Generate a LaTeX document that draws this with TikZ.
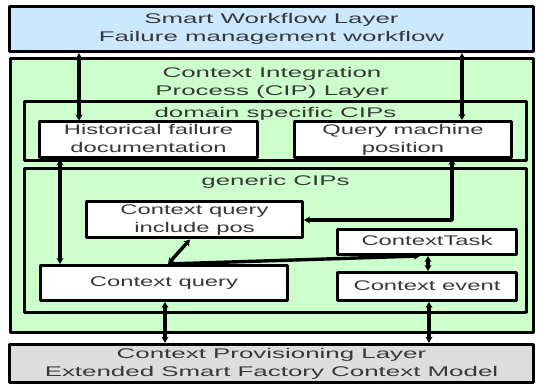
\documentclass[tikz,border=0pt]{standalone}
\usepackage{fontspec}
\setmainfont{Liberation Sans}
\usepackage{graphicx}
\usetikzlibrary{positioning,arrows.meta}
\definecolor{wfblue}{RGB}{204,232,255}
\definecolor{cipgreen}{RGB}{204,255,204}
\definecolor{provgrey}{RGB}{221,221,221}
\newcommand{\widetxt}[2]{\scalebox{#1}[1]{\begin{tabular}{@{}c@{}}#2\end{tabular}}}
\begin{document}
\begin{tikzpicture}[x=1pt,y=1pt,line join=round,>={Stealth[length=6pt,width=7pt]},
	every node/.style={font=\fontsize{14}{18}\selectfont,text=black!78},
	layerbox/.style n args={3}{draw,line width=3.4pt,fill=#1,minimum width=#2,minimum height=#3,inner sep=0pt},
	cipbox/.style 2 args={draw,line width=3pt,fill=cipgreen,minimum width=#1,minimum height=#2,inner sep=0pt},
	cipstep/.style 2 args={draw,line width=3pt,fill=white,minimum width=#1,minimum height=#2,inner sep=0pt},
	link/.style={<->,line width=3.4pt}]
	\useasboundingbox (0,0) rectangle (538,385);
	% layers
	\node[layerbox={wfblue}{524pt}{45pt}] (swl) at (271.5,356) {\widetxt{1.85}{Smart Workflow Layer\\Failure management workflow}};
	\node[layerbox={cipgreen}{523pt}{274pt}] (cip) at (272,189.5) {};
	\node[below=5pt of cip.north] (ciptitle) {\widetxt{1.85}{Context Integration\\Process (CIP) Layer}};
	\node[layerbox={provgrey}{524pt}{38pt}] (cpl) at (271.5,21.5) {\widetxt{1.85}{Context Provisioning Layer\\Extended Smart Factory Context Model}};
	% domain specific CIPs
	\node[cipbox={502pt}{59pt}] (dom) at (275.5,254) {};
	\node[below=1pt of dom.north] (domtitle) {\widetxt{1.85}{domain specific CIPs}};
	\node[cipstep={218pt}{35pt}] (hist) at (148.5,245) {\widetxt{1.7}{Historical failure\\documentation}};
	\node[cipstep={217pt}{34pt}] (qmp) at (403,245.5) {\widetxt{1.7}{Query machine\\position}};
	% generic CIPs
	\node[cipbox={502pt}{144pt}] (gen) at (275.5,144.5) {};
	\node[below=2pt of gen.north] (gentitle) {\widetxt{1.85}{generic CIPs}};
	\node[cipstep={216pt}{35pt}] (cqp) at (194.5,165) {\widetxt{1.7}{Context query\\include pos}};
	\node[cipstep={179pt}{25pt}] (ctask) at (427,143) {\widetxt{1.7}{ContextTask}};
	\node[cipstep={247pt}{35pt}] (cq) at (164,102) {\widetxt{1.7}{Context query}};
	\node[cipstep={179pt}{28pt}] (cev) at (427,98.5) {\widetxt{1.7}{Context event}};
	% connector ends
	\coordinate (histup) at ([xshift=-69.5pt]hist.north);
	\coordinate (histdown) at ([xshift=-88.5pt]hist.south);
	\coordinate (qmpup) at ([xshift=59pt]qmp.north);
	\coordinate (qmpdown) at ([xshift=49pt]qmp.south);
	\coordinate (cqtop) at ([xshift=4pt]cq.north);
	\coordinate (cqbot) at ([xshift=1pt]cq.south);
	\coordinate (cevbot) at ([xshift=2pt]cev.south);
	% connectors
	\draw[link] (swl.south -| histup) -- (histup);
	\draw[link] (swl.south -| qmpup) -- (qmpup);
	\draw[link] (histdown) -- (cq.north -| histdown);
	\draw[link] (qmpdown) |- (cqp.east);
	\draw[link] ([xshift=-4.5pt]cqp.south) -- (cqtop);
	\draw[link] (cqtop) -- ([xshift=-7pt]ctask.south);
	\draw[link] ([xshift=1pt]ctask.south) -- ([xshift=1pt]cev.north);
	\draw[link] (cqbot) -- (cpl.north -| cqbot);
	\draw[link] (cevbot) -- (cpl.north -| cevbot);
\end{tikzpicture}
\end{document}
